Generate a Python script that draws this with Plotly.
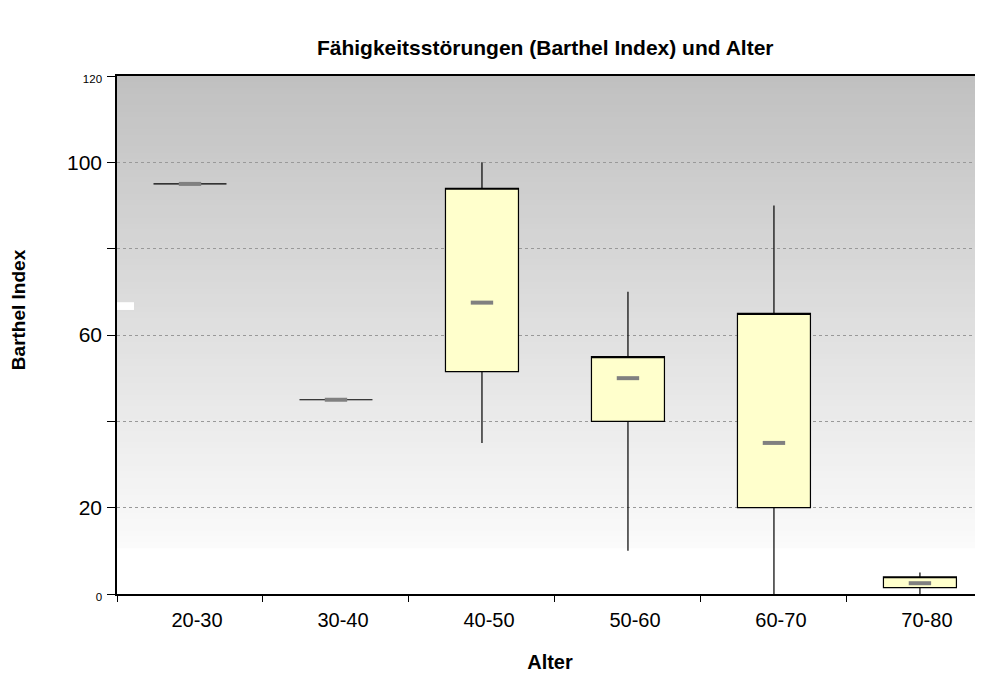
import plotly.graph_objects as go

categories = ["20-30", "30-40", "40-50", "50-60", "60-70", "70-80"]
minimum = [95, 45, 35, 10, 0, 0]
q1 = [95, 45, 51.5, 40, 20, 1.5]
median = [95, 45, 67.5, 50, 35, 2.5]
q3 = [95, 45, 94, 55, 65, 4]
maximum = [95, 45, 100, 70, 90, 5]

y_tickvals = [0, 20, 40, 60, 80, 100, 120]
y_ticktext = ["<span style='font-size:11.5px;fill:#000000'>0</span>", "20", "",
              "60", "", "100", "<span style='font-size:11.5px;fill:#000000'>120</span>"]

FONT = "Liberation Sans, Arial, sans-serif"

fig = go.Figure()

box_style = dict(line=dict(color="#000000", width=1.2), fillcolor="#ffffcc")
fig.add_trace(go.Candlestick(
    x=categories, open=q1, close=q3, low=minimum, high=maximum,
    increasing=box_style, decreasing=box_style,
    whiskerwidth=0, showlegend=False, hoverinfo="skip",
))

fig.add_trace(go.Scatter(
    x=categories, y=median, mode="markers",
    marker=dict(symbol="line-ew", size=16, color="#808080",
                line=dict(color="#808080", width=4)),
    showlegend=False, hoverinfo="skip",
))

# background gradient (Excel-style banded fill), stacked to avoid seams
shapes = []
n_bands = 80
y_top, y_bot = 120.0, 10.6
c_top, c_bot = 192, 251
for i in range(n_bands):
    y0 = y_bot + (y_top - y_bot) * i / n_bands
    t = (i + 0.5) / n_bands
    c = round(c_bot + (c_top - c_bot) * t)
    shapes.append(dict(type="rect", xref="paper", yref="y", x0=0, x1=1,
                       y0=y0, y1=y_top, fillcolor=f"rgb({c},{c},{c})",
                       line=dict(width=0), layer="below"))
shapes.append(dict(type="rect", xref="paper", yref="y", x0=0, x1=0.0196,
                   y0=65.8, y1=67.6, fillcolor="#ffffff",
                   line=dict(width=0), layer="below"))

fig.update_layout(
    width=975, height=665,
    margin=dict(l=109, r=0, t=68, b=79),
    paper_bgcolor="#ffffff", plot_bgcolor="#ffffff",
    font=dict(family=FONT, color="#000000"),
    title=dict(text="<b>Fähigkeitsstörungen (Barthel Index) und Alter</b>",
               x=0.551, xanchor="center", y=0.941, yanchor="middle",
               font=dict(size=21, family=FONT)),
    shapes=shapes,
    boxgap=0.5, boxgroupgap=0,
    showlegend=False,
    annotations=[dict(text="<b>Barthel Index</b>", xref="paper", yref="paper",
                      x=-0.1143, y=0.548, xanchor="center", yanchor="middle",
                      textangle=-90, showarrow=False,
                      font=dict(size=19, family=FONT, color="#000000"))],
)

fig.update_xaxes(
    type="category", range=[-0.5, 5.432],
    rangeslider=dict(visible=False),
    tickson="boundaries", ticks="outside", ticklen=6, tickcolor="#000000",
    showgrid=False, showline=True, linecolor="#000000", linewidth=2,
    mirror=True, zeroline=False, ticklabelstandoff=7, ticklabelshift=7,
    tickfont=dict(size=20, family=FONT),
    title=dict(text="<b>Alter</b>", font=dict(size=20, family=FONT), standoff=27),
)
fig.update_yaxes(
    range=[0, 120], tickmode="array", tickvals=y_tickvals, ticktext=y_ticktext,
    ticks="outside", ticklen=8, tickcolor="#000000", ticklabelstandoff=1,
    showgrid=True, gridcolor="#999999", griddash="dot", gridwidth=1,
    showline=True, linecolor="#000000", linewidth=1.5, zeroline=False,
    tickfont=dict(size=21, family=FONT),
)

fig.write_html("out.html")
